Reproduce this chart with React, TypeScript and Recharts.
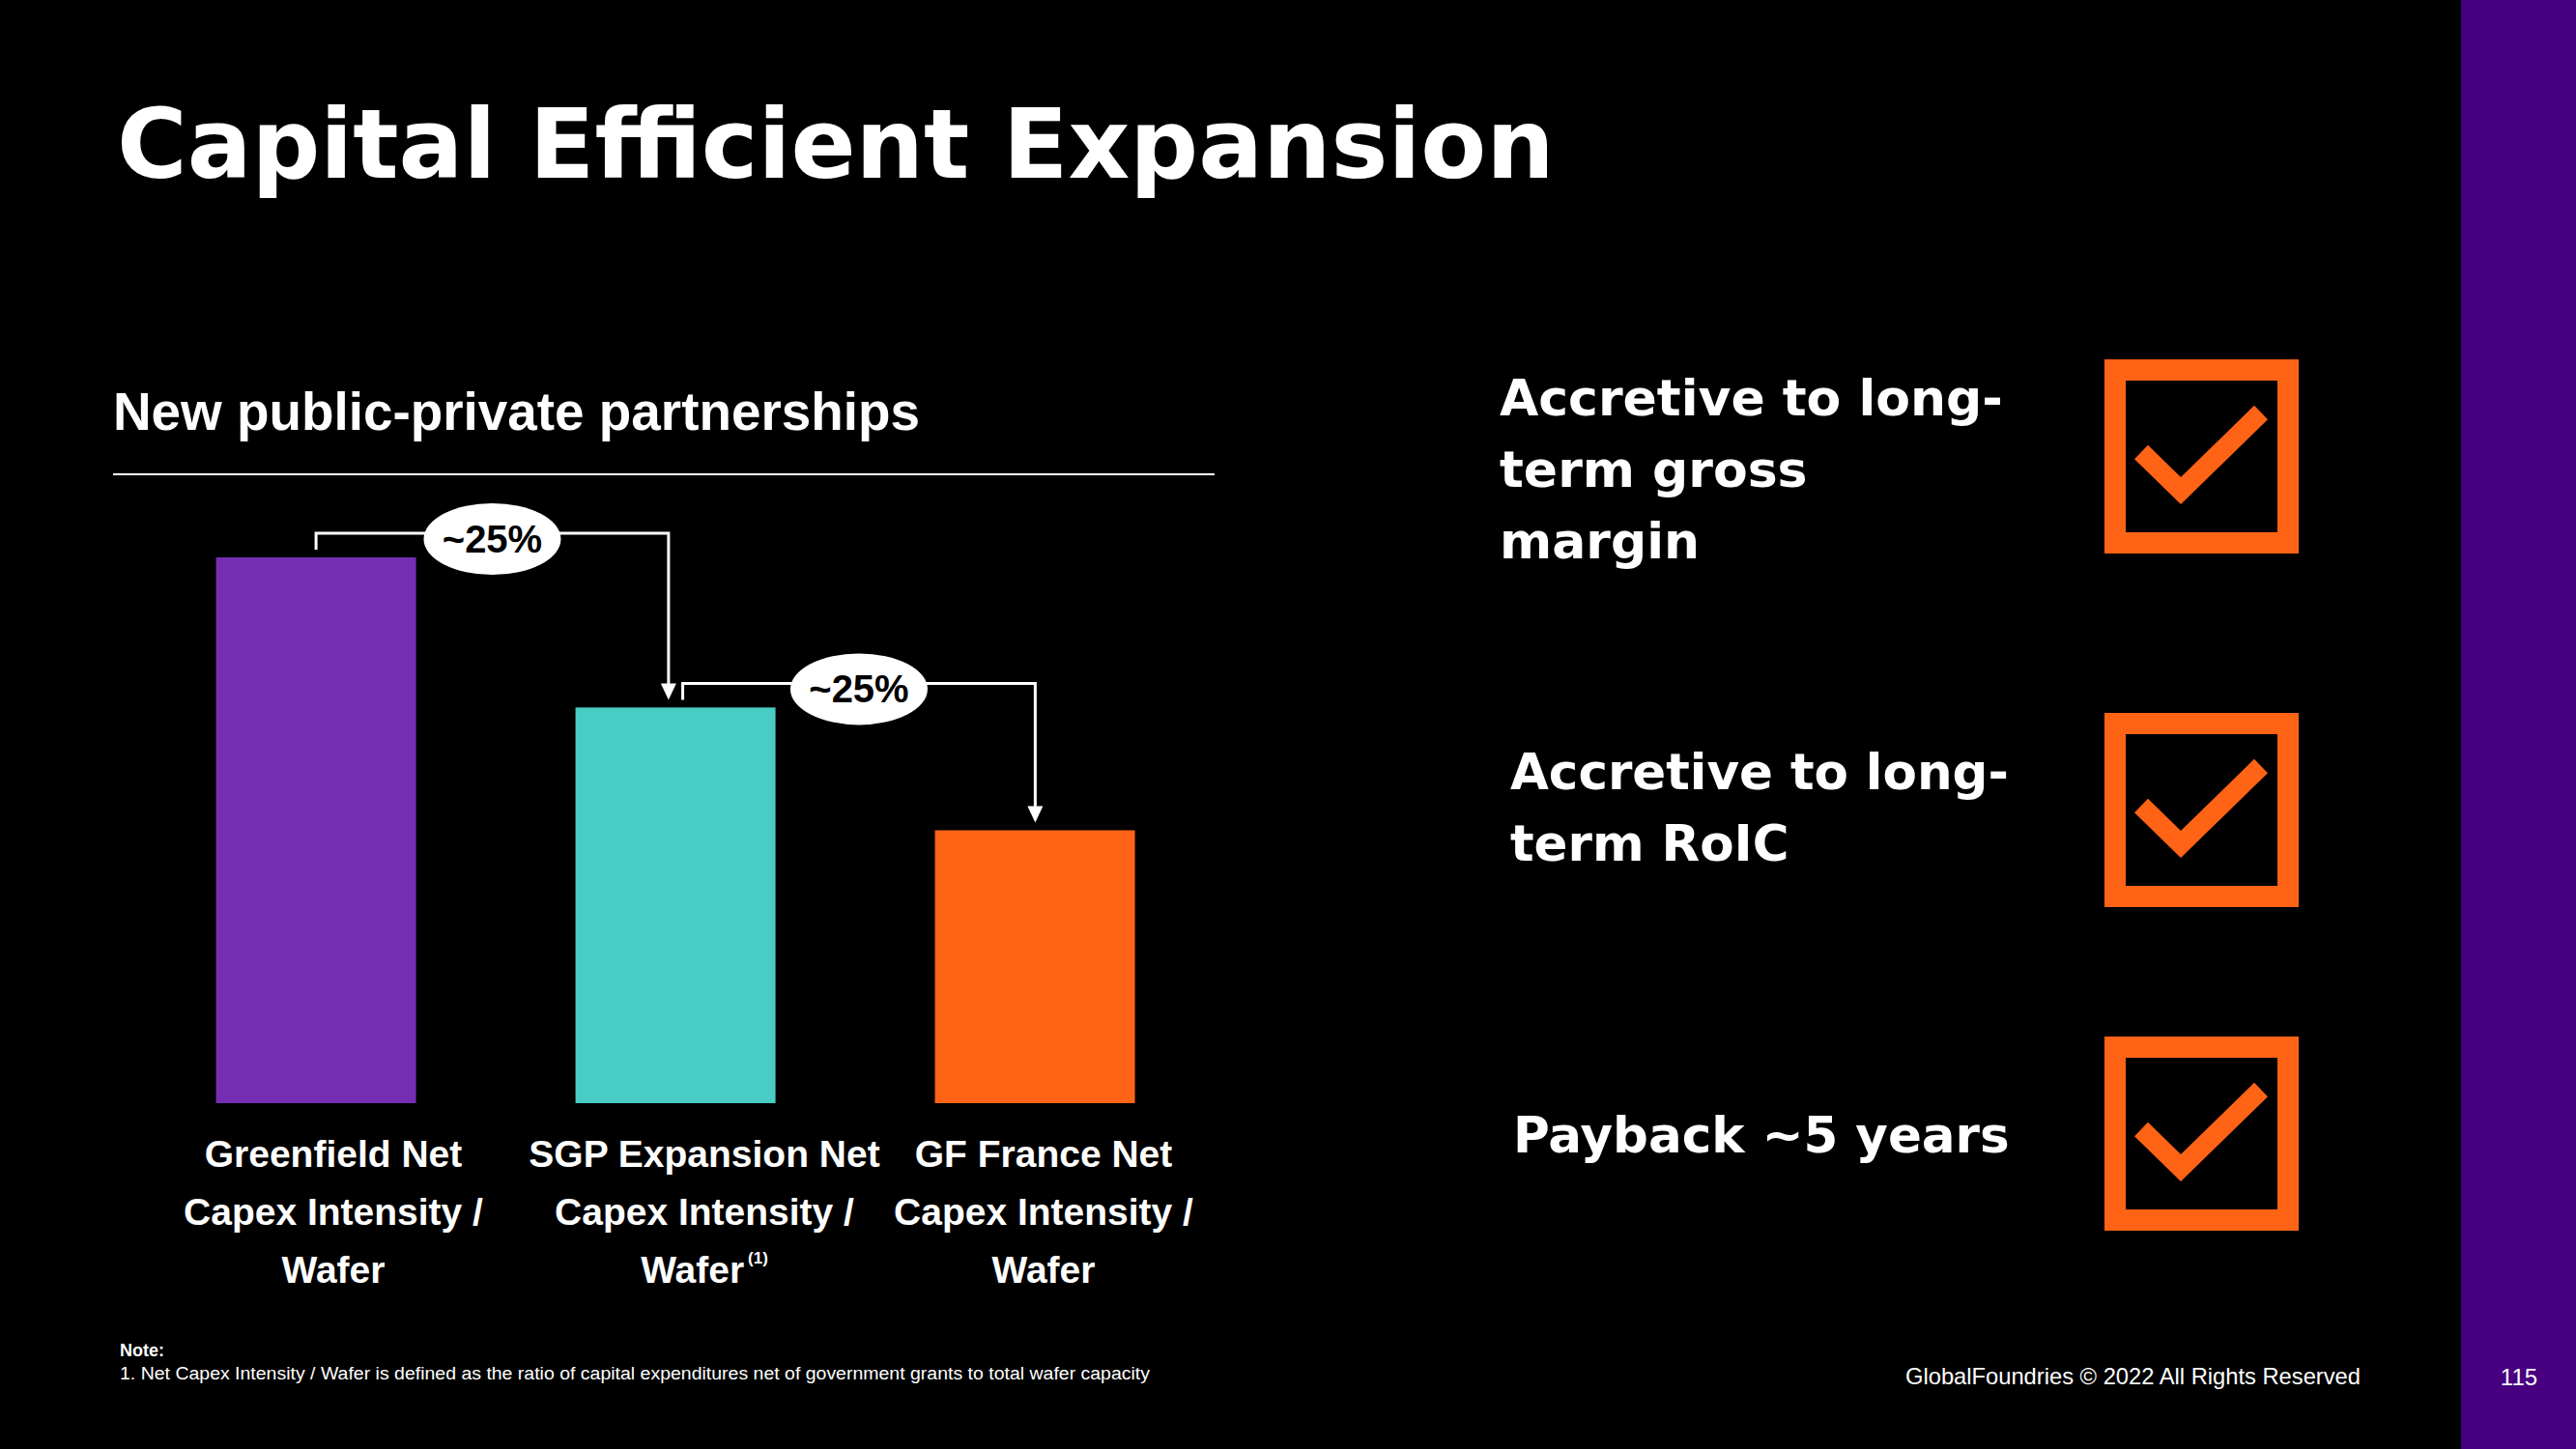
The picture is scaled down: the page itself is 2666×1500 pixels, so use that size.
import { Bar, BarChart, XAxis, YAxis } from "recharts";

const CATEGORIES = [
  "Greenfield Net\nCapex Intensity /\nWafer",
  "SGP Expansion Net\nCapex Intensity /\nWafer",
  "GF France Net\nCapex Intensity /\nWafer",
];
const CAPEX_INDEX = [100, 72.5, 50];
const STEP_LABELS = ["~25%", "~25%"];
const FOOTNOTE_MARKS = ["", "(1)", ""];
const CHECK_ITEMS = [
  ["Accretive to long-", "term gross", "margin"],
  ["Accretive to long-", "term RoIC"],
  ["Payback ~5 years"],
];

const BAR_COLORS = ["#752EB1", "#48CCC3", "#FF6315"];
const ORANGE = "#FF6315";
const GAP = 0.222;
const TICK_NUDGE = [18, 30, 9];
const SANS = "'Liberation Sans', Arial, sans-serif";
const HEAVY = "'DejaVu Sans', sans-serif";

const data = CATEGORIES.map((name, i) => ({ name, value: CAPEX_INDEX[i] }));

// bar + the step bracket pointing at the next bar
function StepBar(props: any) {
  const { x, y, width, height, index } = props;
  const rect = <rect x={x} y={y} width={width} height={height} fill={BAR_COLORS[index]} />;
  if (index >= CAPEX_INDEX.length - 1) return rect;

  const unit = height / CAPEX_INDEX[index];
  const bottom = y + height;
  const step = width / (1 - 2 * GAP);
  const cx = x + width / 2;
  const nextTop = bottom - CAPEX_INDEX[index + 1] * unit;
  const sx = cx + (index > 0 ? 7.5 : 0);
  const ex = cx + step - (index + 1 < CAPEX_INDEX.length - 1 ? 7.5 : 0);
  const level = y - 25;
  const tip = nextTop - 8;
  const mid = (sx + ex) / 2;

  return (
    <g>
      {rect}
      <path
        d={`M${sx},${y - 8} V${level} H${ex} V${tip - 16}`}
        fill="none"
        stroke="#fff"
        strokeWidth={3}
      />
      <polygon points={`${ex - 8},${tip - 17} ${ex + 8},${tip - 17} ${ex},${tip}`} fill="#fff" />
      <ellipse cx={mid} cy={level + 6} rx={71} ry={37} fill="#fff" />
      <text
        x={mid}
        y={level + 20}
        textAnchor="middle"
        fontFamily={SANS}
        fontWeight={700}
        fontSize={40}
        fill="#000"
      >
        {STEP_LABELS[index]}
      </text>
    </g>
  );
}

function CategoryTick(props: any) {
  const { x, y, payload, index } = props;
  const lines = String(payload.value).split("\n");
  const mark = FOOTNOTE_MARKS[index];
  return (
    <g transform={`translate(${x + TICK_NUDGE[index]},${y})`}>
      {lines.map((line, k) => (
        <text
          key={k}
          x={0}
          y={66 + k * 60}
          textAnchor="middle"
          fontFamily={SANS}
          fontWeight={700}
          fontSize={39}
          fill="#fff"
        >
          {line}
          {k === lines.length - 1 && mark ? (
            <tspan fontSize={17} dx={4} dy={-20}>
              {mark}
            </tspan>
          ) : null}
        </text>
      ))}
    </g>
  );
}

const BOX_TOPS = [372, 738, 1073];
const TEXT_BLOCKS = [
  { x: 1552, y: 430 },
  { x: 1563, y: 817 },
  { x: 1566, y: 1193 },
];

export default function App() {
  return (
    <div
      style={{
        position: "absolute",
        left: 0,
        top: 0,
        width: 2666,
        height: 1500,
        background: "#000",
        overflow: "hidden",
        fontFamily: SANS,
      }}
    >
      <div style={{ position: "absolute", left: 2547, top: 0, width: 119, height: 1500, background: "#470080" }} />

      <div style={{ position: "absolute", left: 0, top: 0 }}>
        <BarChart
          width={1300}
          height={1400}
          data={data}
          margin={{ top: 577, right: 43, bottom: 0, left: 141 }}
          barCategoryGap={`${GAP * 100}%`}
        >
          <XAxis
            dataKey="name"
            height={258}
            axisLine={false}
            tickLine={false}
            tickSize={0}
            tickMargin={0}
            interval={0}
            tick={<CategoryTick />}
          />
          <YAxis hide domain={[0, 100]} />
          <Bar dataKey="value" shape={<StepBar />} isAnimationActive={false} />
        </BarChart>
      </div>

      <svg
        width={2666}
        height={1500}
        style={{ position: "absolute", left: 0, top: 0, pointerEvents: "none" }}
      >
        <text x={121} y={184} fontFamily={HEAVY} fontWeight={700} fontSize={99} fill="#fff">
          Capital Efficient Expansion
        </text>
        <text
          x={117}
          y={445}
          fontFamily={SANS}
          fontWeight={700}
          fontSize={56}
          fill="#fff"
          textLength={835}
          lengthAdjust="spacingAndGlyphs"
        >
          New public-private partnerships
        </text>
        <line x1={117} x2={1257} y1={491} y2={491} stroke="#fff" strokeWidth={2} />

        {CHECK_ITEMS.map((lines, i) => (
          <g key={i}>
            {lines.map((line, k) => (
              <text
                key={k}
                x={TEXT_BLOCKS[i].x}
                y={TEXT_BLOCKS[i].y + k * 74}
                fontFamily={HEAVY}
                fontWeight={700}
                fontSize={i === 0 ? 52 : 51.5}
                fill="#fff"
              >
                {line}
              </text>
            ))}
            <g transform={`translate(2178,${BOX_TOPS[i]})`}>
              <rect x={11} y={11} width={179} height={179} fill="none" stroke={ORANGE} strokeWidth={22} />
              <polyline
                points="38,96 79,136 162,55"
                fill="none"
                stroke={ORANGE}
                strokeWidth={20}
                strokeLinejoin="miter"
              />
            </g>
          </g>
        ))}

        <text x={124} y={1404} fontFamily={SANS} fontWeight={700} fontSize={18} fill="#fff">
          Note:
        </text>
        <text
          x={124}
          y={1428}
          fontFamily={SANS}
          fontSize={18}
          fill="#fff"
          textLength={1066}
          lengthAdjust="spacingAndGlyphs"
        >
          1. Net Capex Intensity / Wafer is defined as the ratio of capital expenditures net of government grants to total wafer capacity
        </text>
        <text
          x={1972}
          y={1433}
          fontFamily={SANS}
          fontSize={24}
          fill="#fff"
          textLength={471}
          lengthAdjust="spacingAndGlyphs"
        >
          GlobalFoundries © 2022 All Rights Reserved
        </text>
        <text x={2607} y={1434} textAnchor="middle" fontFamily={SANS} fontSize={24} fill="#fff">
          115
        </text>
      </svg>
    </div>
  );
}
